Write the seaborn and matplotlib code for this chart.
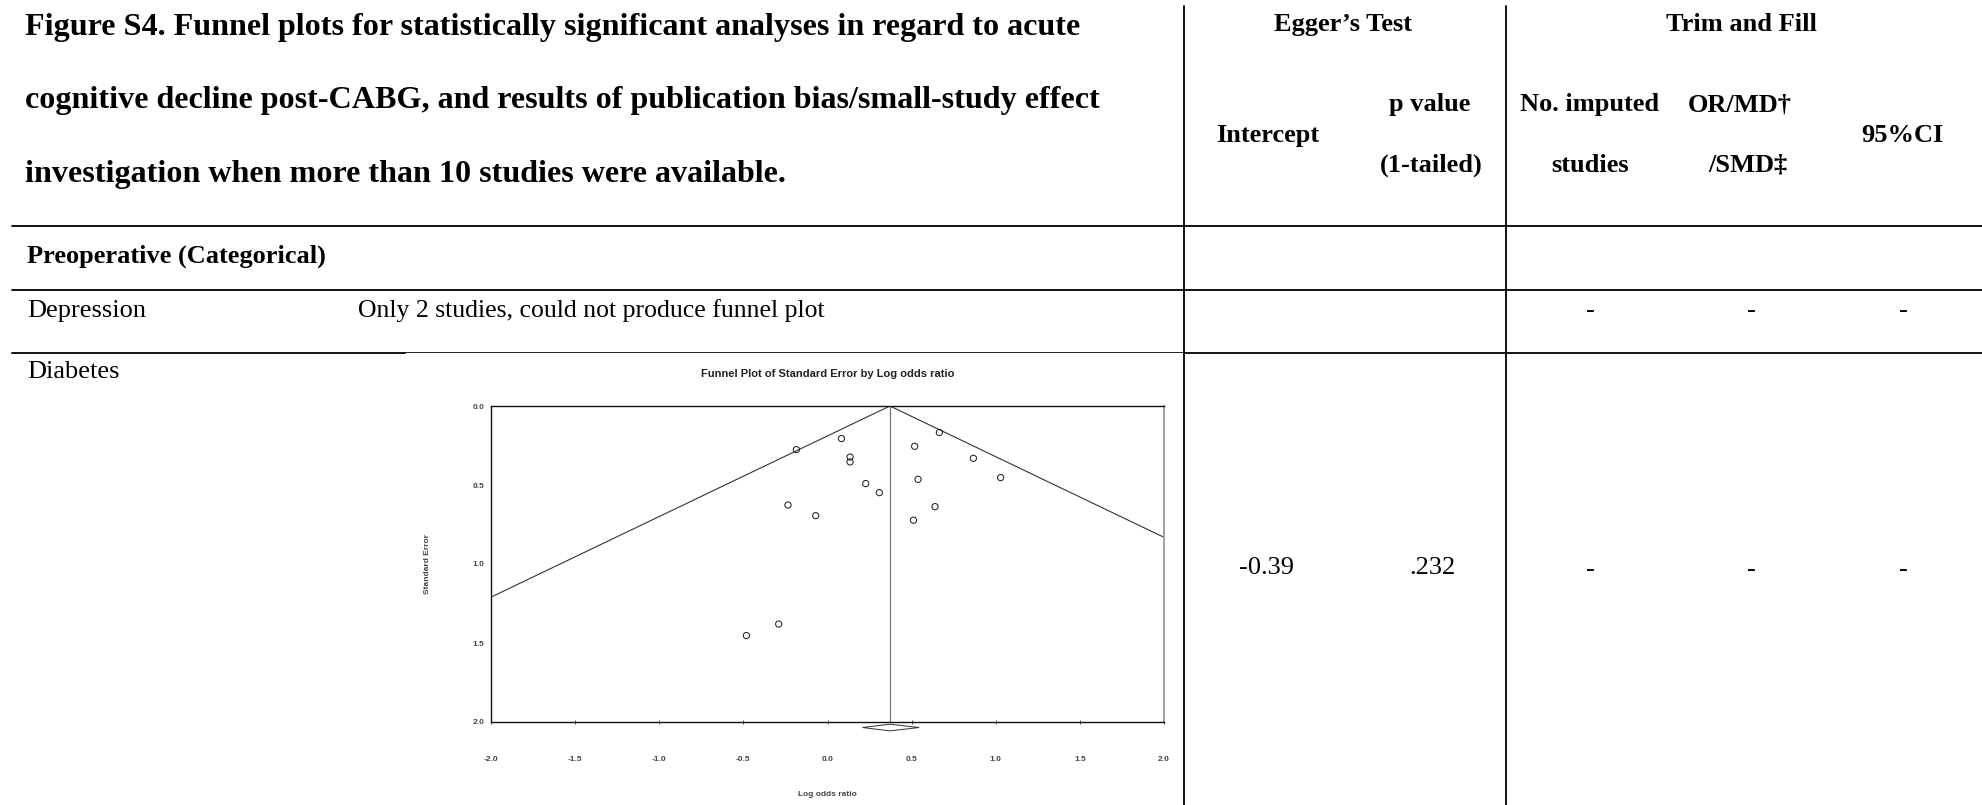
import matplotlib
matplotlib.use('Agg')
import matplotlib.pyplot as plt
import numpy as np
import seaborn as sns

# funnel plot data (diabetes)
log_or = [-0.185, -0.235, -0.29, -0.482, 0.083, 0.134, 0.134, 0.227, 0.308,
          -0.07, 0.518, 0.665, 0.867, 0.538, 1.029, 0.639, 0.511]
std_err = [0.276, 0.627, 1.38, 1.453, 0.206, 0.323, 0.354, 0.491, 0.548,
           0.694, 0.255, 0.168, 0.331, 0.464, 0.453, 0.637, 0.723]
pooled_est = 0.371
pooled_ci = [0.208, 0.545]
x_ticks = [-2.0, -1.5, -1.0, -0.5, 0.0, 0.5, 1.0, 1.5, 2.0]
y_ticks = [0.0, 0.5, 1.0, 1.5, 2.0]

title_lines = ['Figure S4. Funnel plots for statistically significant analyses in regard to acute',
               'cognitive decline post-CABG, and results of publication bias/small-study effect',
               'investigation when more than 10 studies were available.']
egger_intercept = '-0.39'
egger_p = '.232'

W, H = 1982, 805
sns.set_theme(style='white')
plt.rcParams['font.family'] = ['Liberation Serif', 'DejaVu Serif']
plt.rcParams['text.color'] = 'black'

fig = plt.figure(figsize=(W / 100, H / 100), dpi=100)
bg = fig.add_axes([0, 0, 1, 1])
bg.set_xlim(0, W)
bg.set_ylim(H, 0)
bg.axis('off')

fs = 19
# header block
for i, t in enumerate(title_lines):
    bg.text(25, [35, 108, 182][i], t, fontsize=23.1, fontweight='bold', va='baseline', ha='left')

hdr = dict(fontsize=fs, fontweight='bold', va='baseline', ha='center')
bg.text(1343, 31, 'Egger\u2019s Test', **hdr)
bg.text(1741, 31, 'Trim and Fill', **hdr)
bg.text(1268, 142, 'Intercept', **hdr)
bg.text(1430, 111, 'p value', **hdr)
bg.text(1431, 172, '(1-tailed)', **hdr)
bg.text(1590, 111, 'No. imputed', **hdr)
bg.text(1590, 172, 'studies', **hdr)
bg.text(1740, 111, 'OR/MD\u2020', **hdr)
bg.text(1748, 172, '/SMD\u2021', **hdr)
bg.text(1902, 142, '95%CI', **hdr)

# body rows
bg.text(27, 263, 'Preoperative (Categorical)', fontsize=fs, fontweight='bold', va='baseline')
bg.text(27, 317, 'Depression', fontsize=fs, va='baseline')
bg.text(358, 317, 'Only 2 studies, could not produce funnel plot', fontsize=18.5, va='baseline')
bg.text(27, 378, 'Diabetes', fontsize=fs, va='baseline')
for x in [1590, 1751, 1903]:
    bg.text(x, 317, '-', fontsize=fs, ha='center', va='baseline')
    bg.text(x, 576, '-', fontsize=fs, ha='center', va='baseline')
bg.text(1266, 574, egger_intercept, fontsize=fs, ha='center', va='baseline')
bg.text(1432, 574, egger_p, fontsize=fs, ha='center', va='baseline')

# rules
lw = 1.3
bg.plot([12, W], [226.5, 226.5], color='black', lw=lw)
bg.plot([12, W], [290, 290], color='black', lw=lw)
bg.plot([12, 405], [353, 353], color='black', lw=lw)
bg.plot([405, 1184], [352.5, 352.5], color='black', lw=0.6)
bg.plot([1184, W], [353, 353], color='black', lw=lw)
for x in [1184, 1506]:
    bg.plot([x, x], [6, H], color='black', lw=lw)

# funnel plot
ax = fig.add_axes([491 / W, 1 - 722 / H, (1164 - 491) / W, (722 - 406) / H])
sns.scatterplot(x=log_or, y=std_err, ax=ax, s=20, marker='o', linewidth=0.75, zorder=3)
ax.collections[0].set_facecolor('none')
ax.collections[0].set_edgecolor('#222222')

se_line = np.array([0, 2.0])
ax.plot(pooled_est - 1.96 * se_line, se_line, color='#333333', lw=0.8)
ax.plot(pooled_est + 1.96 * se_line, se_line, color='#333333', lw=0.8)
ax.plot([pooled_est, pooled_est], [0, 2], color='#777777', lw=0.9)
ax.fill([pooled_ci[0], pooled_est, pooled_ci[1], pooled_est],
        [2.035, 2.014, 2.035, 2.056], facecolor='white', edgecolor='#333333',
        lw=0.7, clip_on=False, zorder=4)

ax.set_xlim(-2, 2)
ax.set_ylim(2, 0)
ax.set_xticks(x_ticks)
ax.set_yticks(y_ticks)
tick_font = dict(family=['Liberation Sans', 'DejaVu Sans'], size=6, weight='bold')
ax.set_xticklabels(['{:.1f}'.format(v) for v in x_ticks], color='#444444', **tick_font)
ax.set_yticklabels(['{:.1f}'.format(v) for v in y_ticks], color='#444444', **tick_font)
ax.tick_params(axis='x', direction='inout', length=3, width=0.7, pad=23, bottom=True, colors='#444444')
ax.tick_params(axis='y', length=0, pad=5)
for side in ['top', 'left', 'bottom']:
    ax.spines[side].set_color('#111111')
    ax.spines[side].set_linewidth(1.0)
ax.spines['right'].set_color('#999999')
ax.spines['right'].set_linewidth(1.3)
ax.set_facecolor('white')
ax.set_xlabel('Log odds ratio', color='#444444', labelpad=20, **tick_font)
ax.set_ylabel('Standard Error', color='#444444', labelpad=30, **tick_font)
ax.set_title('Funnel Plot of Standard Error by Log odds ratio', pad=21,
             family=['Liberation Sans', 'DejaVu Sans'], size=8, weight='bold', color='#222222')

fig.savefig('out.png', dpi=100)
